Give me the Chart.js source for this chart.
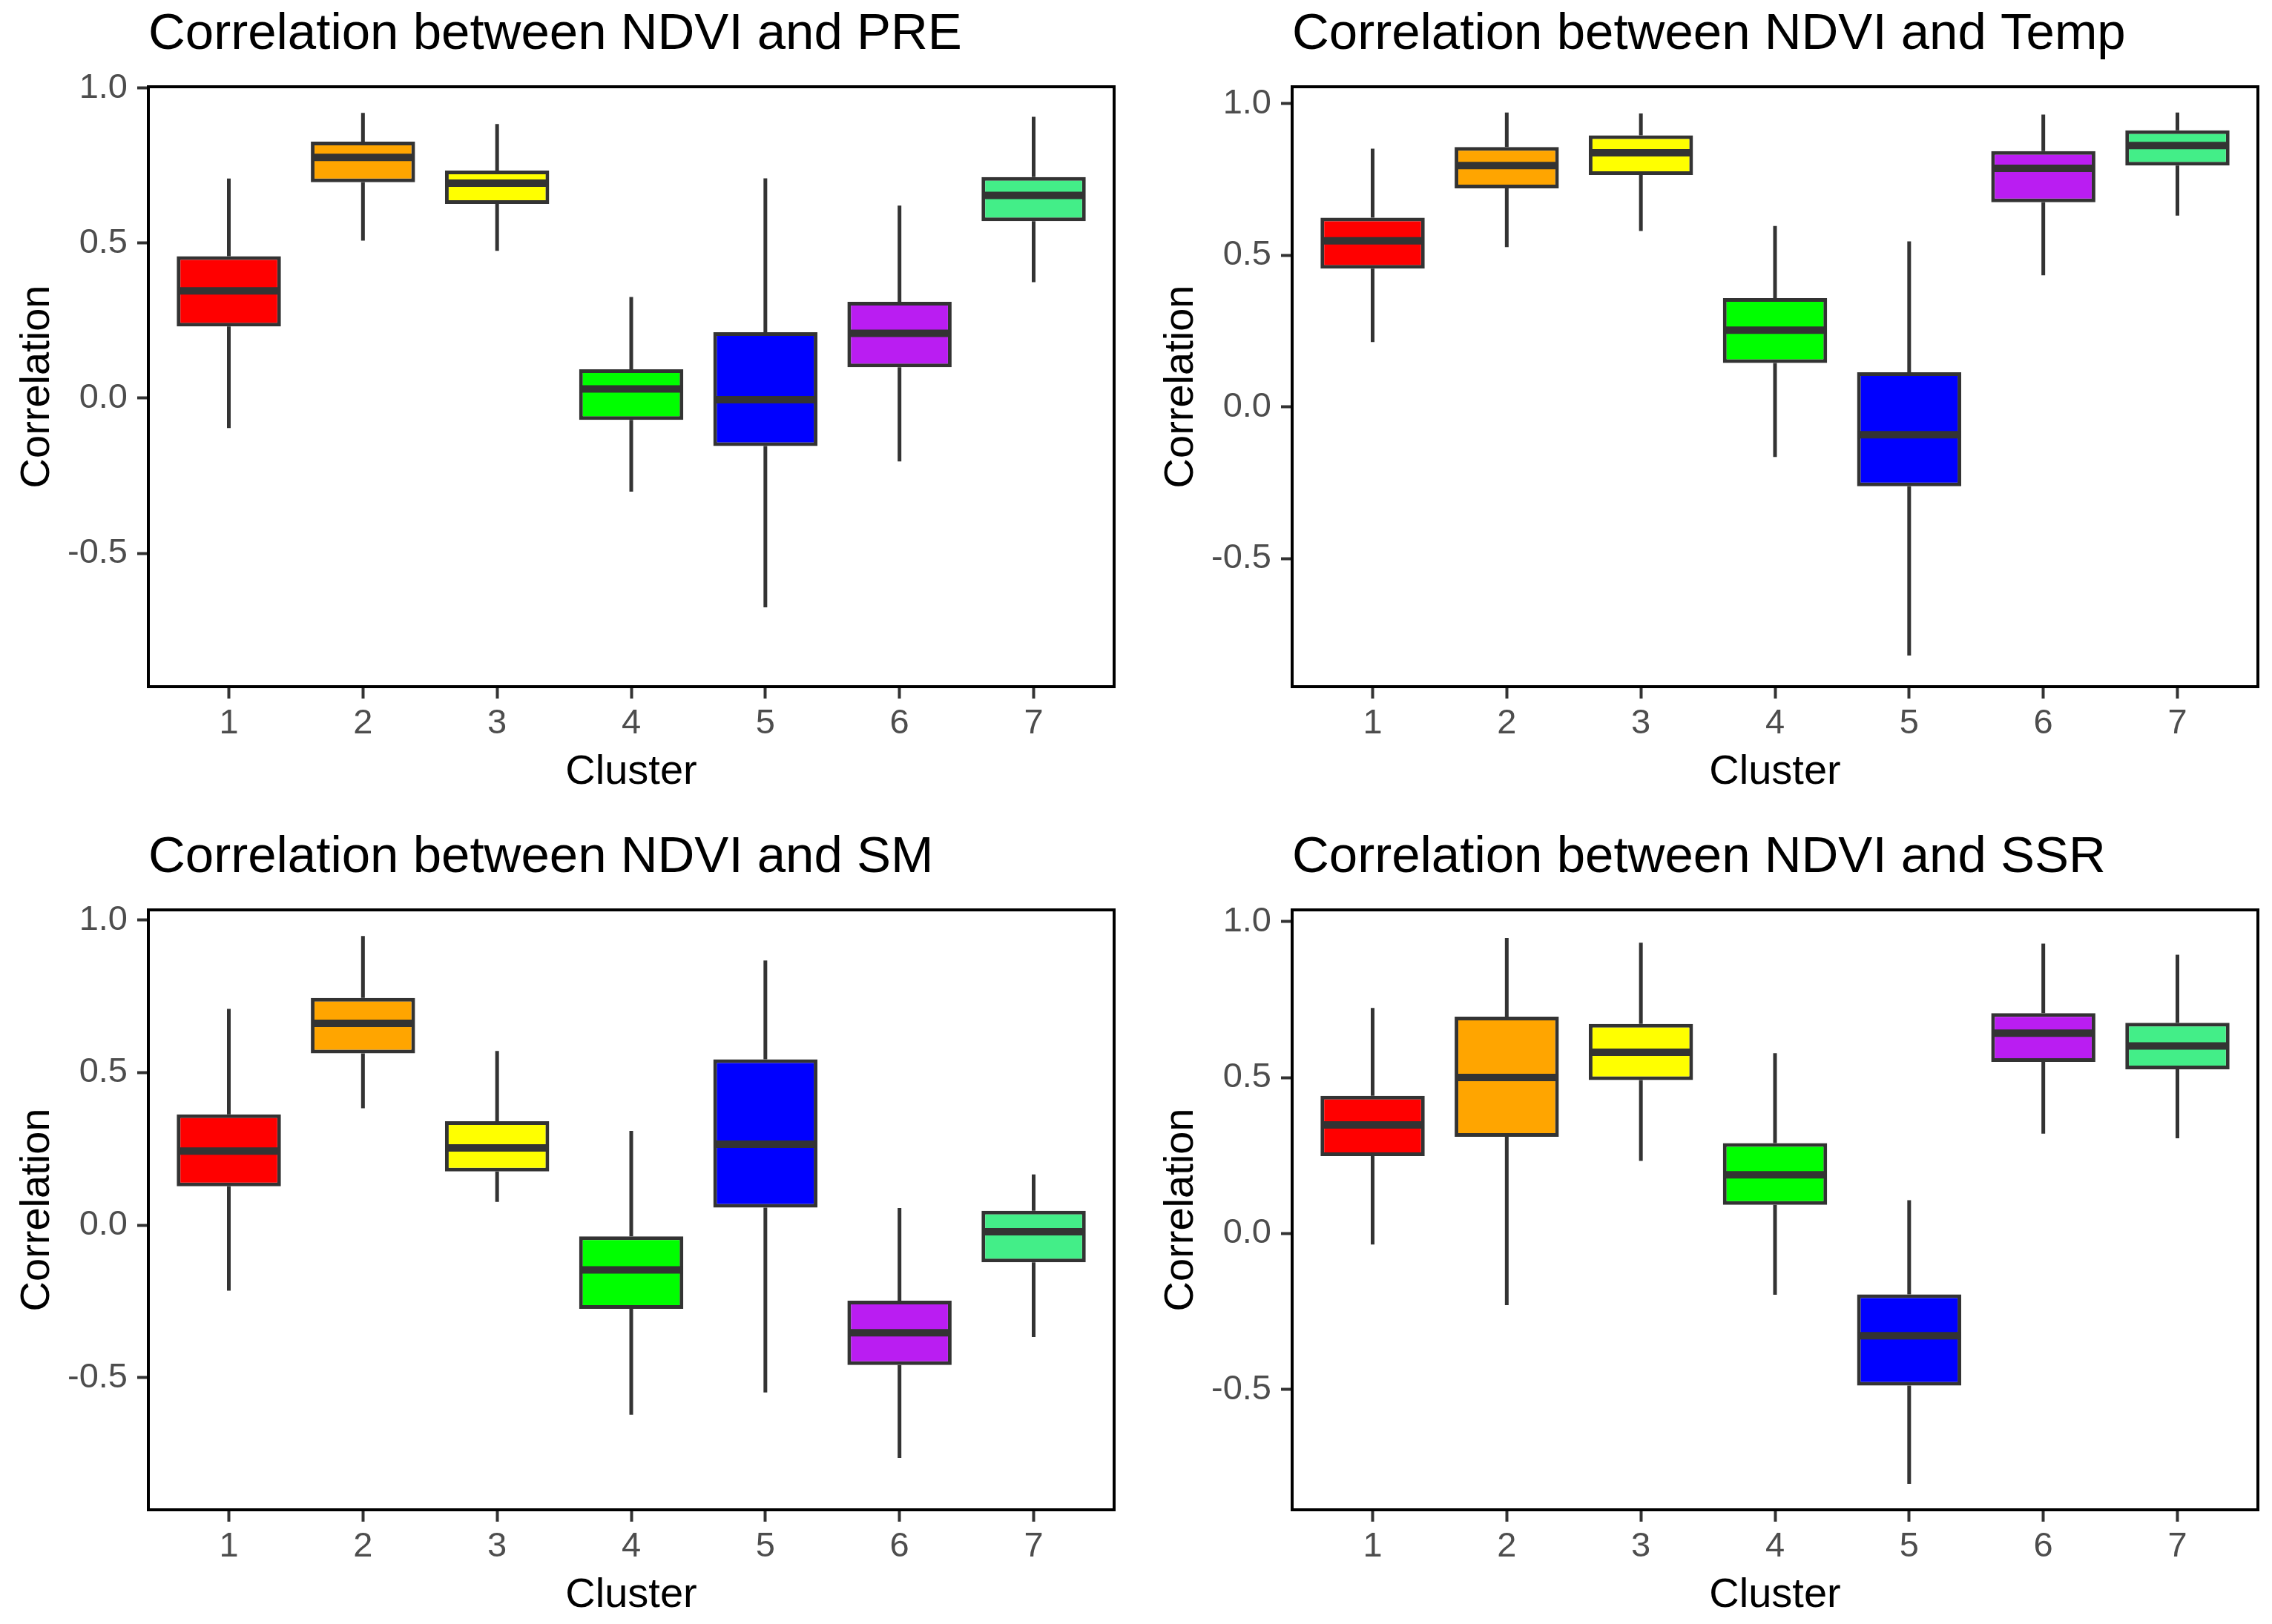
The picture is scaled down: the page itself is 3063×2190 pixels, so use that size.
<!DOCTYPE html>
<html>
<head>
<meta charset="utf-8">
<title>Correlation between NDVI and climate factors</title>
<script src="https://cdn.jsdelivr.net/npm/chart.js@4.4.1/dist/chart.umd.min.js"></script>
<style>
  html, body { margin: 0; padding: 0; background: #fff; }
  #grid { position: relative; width: 3063px; height: 2190px; }
  .panel { position: absolute; height: 1095px; }
</style>
</head>
<body>
<div id="grid">
  <div class="panel" style="left:0;top:0;width:1531px"><canvas id="pre"></canvas></div>
  <div class="panel" style="left:1531px;top:0;width:1532px"><canvas id="temp"></canvas></div>
  <div class="panel" style="left:0;top:1095px;width:1531px"><canvas id="sm"></canvas></div>
  <div class="panel" style="left:1531px;top:1095px;width:1532px"><canvas id="ssr"></canvas></div>
</div>
<script>
const clusters = [1, 2, 3, 4, 5, 6, 7];
const yTicks = [-0.5, 0, 0.5, 1.0];
const boxColors = ["#FF0000", "#FFA500", "#FFFF00", "#00FF00", "#0000FF", "#BA1DF2", "#43EE88"];

// NDVI vs PRE
const preLow = [-0.096, 0.508, 0.475, -0.301, -0.674, -0.204, 0.374];
const preQ1 = [0.231, 0.696, 0.626, -0.070, -0.154, 0.100, 0.571];
const preMedian = [0.346, 0.776, 0.693, 0.030, -0.005, 0.209, 0.654];
const preQ3 = [0.458, 0.827, 0.734, 0.093, 0.213, 0.311, 0.713];
const preHigh = [0.708, 0.920, 0.884, 0.326, 0.709, 0.621, 0.907];

// NDVI vs Temp
const tempLow = [0.214, 0.527, 0.580, -0.165, -0.820, 0.434, 0.631];
const tempQ1 = [0.456, 0.721, 0.765, 0.145, -0.262, 0.675, 0.796];
const tempMedian = [0.548, 0.796, 0.838, 0.253, -0.092, 0.787, 0.862];
const tempQ3 = [0.624, 0.857, 0.896, 0.359, 0.114, 0.844, 0.912];
const tempHigh = [0.852, 0.971, 0.968, 0.597, 0.546, 0.964, 0.971];

// NDVI vs SM
const smLow = [-0.215, 0.383, 0.076, -0.622, -0.549, -0.764, -0.367];
const smQ1 = [0.127, 0.563, 0.176, -0.275, 0.057, -0.459, -0.122];
const smMedian = [0.243, 0.662, 0.253, -0.147, 0.265, -0.353, -0.022];
const smQ3 = [0.363, 0.745, 0.341, -0.037, 0.544, -0.248, 0.047];
const smHigh = [0.709, 0.948, 0.571, 0.309, 0.868, 0.056, 0.166];

// NDVI vs SSR
const ssrLow = [-0.035, -0.229, 0.233, -0.196, -0.802, 0.320, 0.305];
const ssrQ1 = [0.248, 0.310, 0.492, 0.092, -0.487, 0.550, 0.526];
const ssrMedian = [0.348, 0.500, 0.581, 0.188, -0.327, 0.642, 0.601];
const ssrQ3 = [0.441, 0.695, 0.672, 0.290, -0.195, 0.706, 0.675];
const ssrHigh = [0.723, 0.947, 0.932, 0.578, 0.107, 0.929, 0.893];

const FONT = "'Liberation Sans', Arial, Helvetica, sans-serif";
const LINE = "#333333";

// whiskers under the boxes, median bar and panel border on top
const boxPlotPlugin = {
  id: "boxPlot",
  beforeDatasetsDraw(chart) {
    const ctx = chart.ctx;
    const y = chart.scales.y;
    chart.data.datasets.forEach((ds, di) => {
      const meta = chart.getDatasetMeta(di);
      ctx.save();
      ctx.strokeStyle = LINE;
      ctx.lineWidth = 5;
      ctx.lineCap = "butt";
      meta.data.forEach((el, i) => {
        ctx.beginPath();
        ctx.moveTo(el.x, y.getPixelForValue(ds.high[i]));
        ctx.lineTo(el.x, y.getPixelForValue(ds.q3[i]));
        ctx.moveTo(el.x, y.getPixelForValue(ds.q1[i]));
        ctx.lineTo(el.x, y.getPixelForValue(ds.low[i]));
        ctx.stroke();
      });
      ctx.restore();
    });
  },
  afterDatasetsDraw(chart) {
    const ctx = chart.ctx;
    const y = chart.scales.y;
    chart.data.datasets.forEach((ds, di) => {
      const meta = chart.getDatasetMeta(di);
      ctx.save();
      ctx.strokeStyle = LINE;
      ctx.lineWidth = 10;
      meta.data.forEach((el, i) => {
        const py = y.getPixelForValue(ds.median[i]);
        ctx.beginPath();
        ctx.moveTo(el.x - el.width / 2 + 1, py);
        ctx.lineTo(el.x + el.width / 2 - 1, py);
        ctx.stroke();
      });
      ctx.restore();
    });
  },
  afterDraw(chart) {
    const { left, top, width, height } = chart.chartArea;
    const ctx = chart.ctx;
    ctx.save();
    ctx.strokeStyle = "#000000";
    ctx.lineWidth = 4;
    ctx.strokeRect(left, top, width, height);
    ctx.restore();
  }
};

function makePanel(id, title, low, q1, median, q3, high, yMin, yMax, isRight, isBottom) {
  const ctx = document.getElementById(id).getContext("2d");
  return new Chart(ctx, {
    type: "bar",
    data: {
      datasets: [
        {
          data: clusters.map((c, i) => ({ x: c, y: [q1[i], q3[i]] })),
          low: low,
          q1: q1,
          median: median,
          q3: q3,
          high: high,
          backgroundColor: boxColors,
          borderColor: LINE,
          borderWidth: 5,
          borderSkipped: false,
          barPercentage: 0.777,
          categoryPercentage: 1.0,
        },
      ],
    },
    options: {
      responsive: true,
      maintainAspectRatio: false,
      animation: false,
      layout: {
        padding: {
          left: isRight ? 11 : 0,
          right: isRight ? 19 : 29,
          top: isBottom ? 15 : 0,
          bottom: isBottom ? 0 : 15,
        },
      },
      plugins: {
        legend: { display: false },
        tooltip: { enabled: false },
        title: {
          display: true,
          text: title,
          align: "start",
          fullSize: false,
          color: "#000000",
          font: { family: FONT, size: 69, weight: "normal", lineHeight: 1.2 },
          padding: { top: 6, bottom: 28.2 },
        },
      },
      scales: {
        x: {
          type: "linear",
          min: 0.4,
          max: 7.6,
          offset: false,
          afterBuildTicks: (scale) => {
            scale.ticks = clusters.map((v) => ({ value: v }));
          },
          afterFit: (scale) => {
            scale.height = 154;
          },
          border: { display: false },
          grid: {
            offset: false,
            drawOnChartArea: false,
            drawTicks: true,
            tickLength: 16,
            tickWidth: 4,
            tickColor: LINE,
          },
          ticks: {
            color: "#4D4D4D",
            padding: 5.5,
            autoSkip: false,
            maxRotation: 0,
            font: { family: FONT, size: 47, lineHeight: 1.2 },
            callback: (v) => String(v),
          },
          title: {
            display: true,
            text: "Cluster",
            color: "#000000",
            font: { family: FONT, size: 56, lineHeight: 1.2 },
            padding: { top: 0, bottom: 5 },
          },
        },
        y: {
          min: yMin,
          max: yMax,
          afterBuildTicks: (scale) => {
            scale.ticks = yTicks.map((v) => ({ value: v }));
          },
          afterFit: (scale) => {
            scale.width = 200;
          },
          border: { display: false },
          grid: {
            drawOnChartArea: false,
            drawTicks: true,
            tickLength: 15,
            tickWidth: 4,
            tickColor: LINE,
          },
          ticks: {
            color: "#4D4D4D",
            padding: 13,
            font: { family: FONT, size: 47, lineHeight: 1.2 },
            callback: (v) => v.toFixed(1),
          },
          title: {
            display: true,
            text: "Correlation",
            color: "#000000",
            font: { family: FONT, size: 56, lineHeight: 1.2 },
            padding: { top: 17, bottom: 0 },
          },
        },
      },
    },
    plugins: [boxPlotPlugin],
  });
}

makePanel("pre", "Correlation between NDVI and PRE", preLow, preQ1, preMedian, preQ3, preHigh, -0.93, 1.004, false, false);
makePanel("temp", "Correlation between NDVI and Temp", tempLow, tempQ1, tempMedian, tempQ3, tempHigh, -0.923, 1.056, true, false);
makePanel("sm", "Correlation between NDVI and SM", smLow, smQ1, smMedian, smQ3, smHigh, -0.934, 1.034, false, true);
makePanel("ssr", "Correlation between NDVI and SSR", ssrLow, ssrQ1, ssrMedian, ssrQ3, ssrHigh, -0.885, 1.037, true, true);
</script>
</body>
</html>
